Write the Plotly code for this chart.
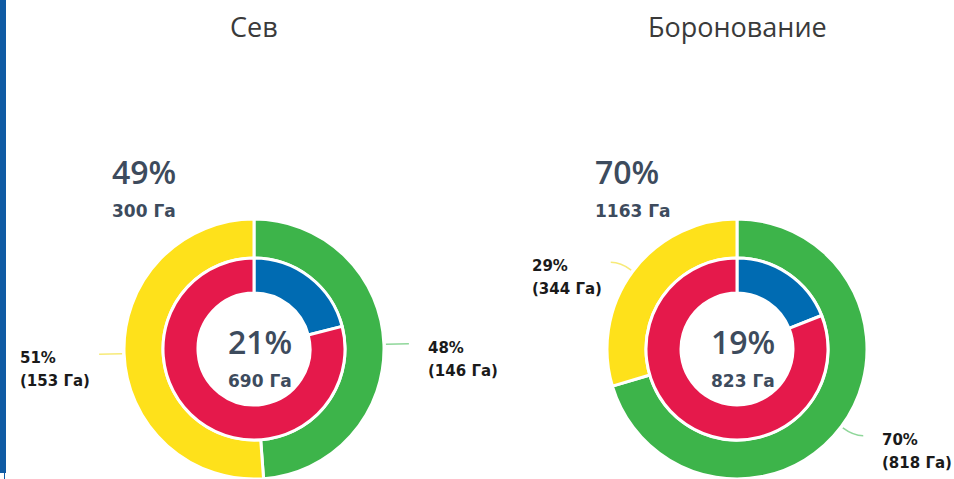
import math
import plotly.graph_objects as go

W, H = 954, 479

# ---------------- data ----------------
titles = ["Сев", "Боронование"]
outer_names = ["Выполнено", "Осталось"]          # green, yellow
outer_area = [[146, 153], [818, 344]]            # Га
outer_pct = [[48, 51], [70, 29]]                 # % shown on labels
inner_names = ["Выполнено", "Осталось"]          # blue, red
inner_pct = [[21, 79], [19, 81]]
center_pct = [21, 19]
center_area = [690, 823]
total_pct = [49, 70]
total_area = [300, 1163]

# ---------------- style / layout ----------------
GREEN, YELLOW, RED, BLUE = "#3db44a", "#fee11b", "#e5194b", "#006bb2"
LINE_COL = ["#8fd79a", "#f7ea78"]
TXT = "#3d4b5d"
CX = [254, 737]
CY = 349
R_OUT, R_MID, R_IN = 130, 91, 56


def px(x):
    return x / W


def py(y):
    return 1 - y / H


def domain(cx, cy, r):
    return dict(x=[max(0, px(cx - r)), min(1, px(cx + r))],
                y=[max(0, py(cy + r)), min(1, py(cy - r))])


fig = go.Figure()
ann = []
shapes = []

for i in range(2):
    cx = CX[i]
    fig.add_trace(go.Pie(
        values=outer_area[i], labels=outer_names, domain=domain(cx, CY, R_OUT),
        hole=R_MID / R_OUT, sort=False, direction="clockwise", rotation=0,
        marker=dict(colors=[GREEN, YELLOW], line=dict(color="white", width=3)),
        textinfo="none", hoverinfo="label+value", showlegend=False))
    fig.add_trace(go.Pie(
        values=inner_pct[i], labels=inner_names, domain=domain(cx, CY, R_MID),
        hole=R_IN / R_MID, sort=False, direction="clockwise", rotation=0,
        marker=dict(colors=[BLUE, RED], line=dict(color="white", width=3)),
        textinfo="none", hoverinfo="label+value", showlegend=False))

    # title
    ann.append(dict(x=px(cx), y=py(27), text=titles[i], showarrow=False,
                    xanchor="center", yanchor="middle",
                    font=dict(family="Open Sans", size=27, color="#3a3a3a")))
    # total
    ann.append(dict(x=px(cx - 144), y=py(171), text=f"{total_pct[i]}%", showarrow=False,
                    xanchor="left", yanchor="middle",
                    font=dict(family="Open Sans", size=32, color=TXT, weight=600)))
    ann.append(dict(x=px(cx - 144), y=py(211), text=f"<b>{total_area[i]} Га</b>", showarrow=False,
                    xanchor="left", yanchor="middle",
                    font=dict(family="DejaVu Sans", size=17, color=TXT)))
    # center
    ann.append(dict(x=px(cx + 6), y=py(341), text=f"{center_pct[i]}%", showarrow=False,
                    xanchor="center", yanchor="middle",
                    font=dict(family="Open Sans", size=32, color=TXT, weight=600)))
    ann.append(dict(x=px(cx + 6), y=py(381), text=f"<b>{center_area[i]} Га</b>", showarrow=False,
                    xanchor="center", yanchor="middle",
                    font=dict(family="DejaVu Sans", size=17, color=TXT)))

    # outer slice labels with connectors
    tot = sum(outer_area[i])
    start = 0.0
    for k in range(2):
        span = outer_area[i][k] / tot * 360
        mid = math.radians(start + span / 2)
        start += span
        s, c = math.sin(mid), math.cos(mid)
        side = 1 if s >= 0 else -1
        p0 = (cx + (R_OUT + 2) * s, CY - (R_OUT + 2) * c)
        p1 = (cx + (R_OUT + 15) * s, CY - (R_OUT + 15) * c)
        p2 = (p1[0] + side * 10, p1[1])
        shapes.append(dict(
            type="path", xref="paper", yref="paper",
            path=f"M {px(p0[0])},{py(p0[1])} Q {px(p1[0])},{py(p1[1])} {px(p2[0])},{py(p2[1])}",
            line=dict(color=LINE_COL[k], width=1.5)))
        l1 = f"<b>{outer_pct[i][k]}%</b>"
        l2 = f"<b>({outer_area[i][k]} Га)</b>"
        xa = p2[0] + 17 if side > 0 else p2[0] - 81
        y1 = p2[1] + 4
        for txt, yy in ((l1, y1), (l2, y1 + 23)):
            ann.append(dict(x=px(xa), y=py(yy), text=txt, showarrow=False,
                            xanchor="left", yanchor="middle",
                            font=dict(family="DejaVu Sans", size=15, color="#1a1a1a")))

# left blue bar
shapes.append(dict(type="rect", xref="paper", yref="paper", x0=0, x1=px(6), y0=py(473), y1=1,
                   fillcolor="#0f5ba4", line=dict(width=0)))
shapes.append(dict(type="rect", xref="paper", yref="paper", x0=px(4), x1=px(5), y0=0, y1=py(473),
                   fillcolor="#0f5ba4", line=dict(width=0)))

fig.update_layout(width=W, height=H, margin=dict(l=0, r=0, t=0, b=0),
                  paper_bgcolor="white", plot_bgcolor="white", showlegend=False,
                  annotations=ann, shapes=shapes)

fig.write_html("out.html", config={"displayModeBar": False},
               post_script="document.body.style.margin='0';")
